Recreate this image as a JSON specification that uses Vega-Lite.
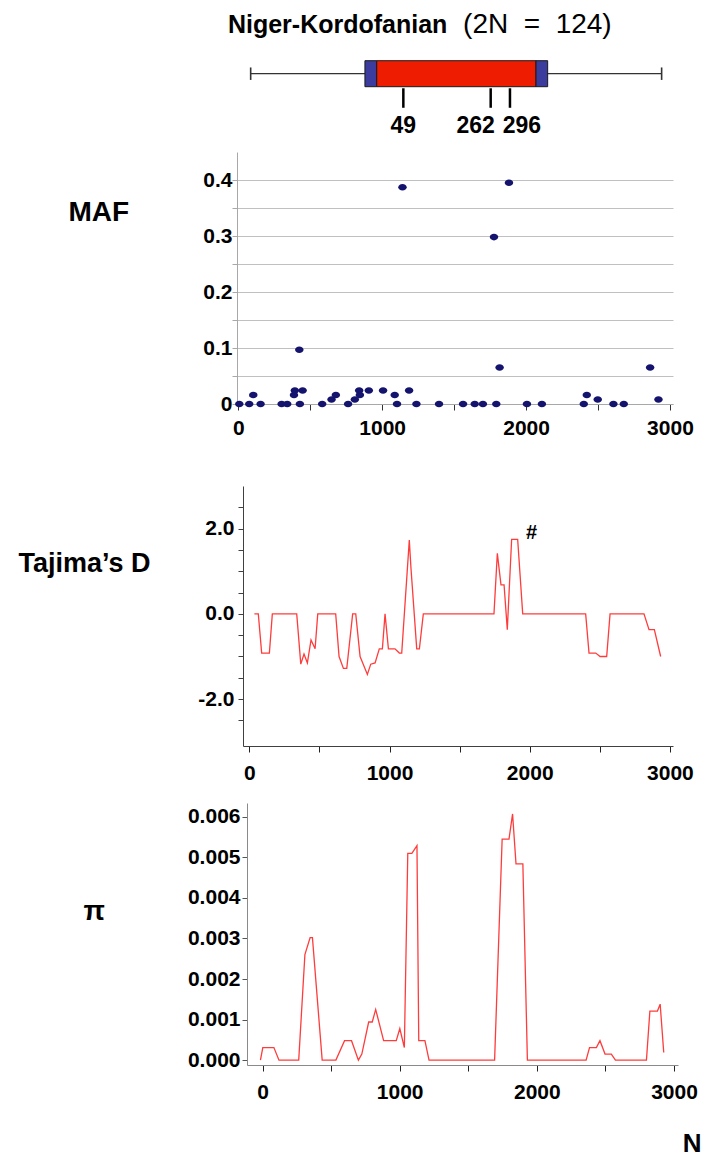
{
  "$schema": "https://vega.github.io/schema/vega-lite/v6.json",
  "padding": {"left": 18, "top": 10, "right": 0, "bottom": 0},
  "autosize": {"type": "pad"},
  "bounds": "flush",
  "spacing": 0,
  "config": {
    "view": {"stroke": null},
    "font": "Liberation Sans",
    "axis": {
      "labelFont": "Liberation Sans", "labelFontWeight": "bold", "labelFontSize": 21, "labelColor": "#000000",
      "titleFont": "Liberation Sans", "titleFontWeight": "bold", "titleColor": "#000000",
      "grid": false, "labelFlush": false, "labelOverlap": false, "tickWidth": 1, "domainWidth": 1
    }
  },
  "datasets": {
    "gene": [{"start": 86, "end": 2942}],
    "geneEnds": [{"pos": 86}, {"pos": 2942}],
    "parts": [
      {"part": "UTR", "start": 880, "end": 962},
      {"part": "CDS", "start": 962, "end": 2069},
      {"part": "UTR", "start": 2069, "end": 2150}
    ],
    "snps": [
      {"codon": "49", "pos": 1147},
      {"codon": "262", "pos": 1754},
      {"codon": "296", "pos": 1888}
    ],
    "maf": [
      {"pos": 7, "maf": 0}, {"pos": 76, "maf": 0}, {"pos": 104, "maf": 0.016}, {"pos": 155, "maf": 0},
      {"pos": 301, "maf": 0}, {"pos": 340, "maf": 0}, {"pos": 387, "maf": 0.016}, {"pos": 393, "maf": 0.024},
      {"pos": 447, "maf": 0.024}, {"pos": 424, "maf": 0.097}, {"pos": 428, "maf": 0}, {"pos": 583, "maf": 0},
      {"pos": 648, "maf": 0.008}, {"pos": 678, "maf": 0.016}, {"pos": 763, "maf": 0}, {"pos": 810, "maf": 0.008},
      {"pos": 840, "maf": 0.024}, {"pos": 845, "maf": 0.016}, {"pos": 907, "maf": 0.024}, {"pos": 1006, "maf": 0.024},
      {"pos": 1087, "maf": 0.016}, {"pos": 1103, "maf": 0}, {"pos": 1141, "maf": 0.387}, {"pos": 1187, "maf": 0.024},
      {"pos": 1238, "maf": 0}, {"pos": 1395, "maf": 0}, {"pos": 1562, "maf": 0}, {"pos": 1643, "maf": 0},
      {"pos": 1700, "maf": 0}, {"pos": 1777, "maf": 0.298}, {"pos": 1793, "maf": 0}, {"pos": 1816, "maf": 0.065},
      {"pos": 1881, "maf": 0.395}, {"pos": 2006, "maf": 0}, {"pos": 2110, "maf": 0}, {"pos": 2401, "maf": 0},
      {"pos": 2422, "maf": 0.016}, {"pos": 2498, "maf": 0.008}, {"pos": 2607, "maf": 0}, {"pos": 2679, "maf": 0},
      {"pos": 2862, "maf": 0.065}, {"pos": 2920, "maf": 0.008}
    ],
    "tajima": [
      {"pos": 36, "d": 0}, {"pos": 64, "d": 0}, {"pos": 88, "d": -0.92}, {"pos": 143, "d": -0.92},
      {"pos": 164, "d": 0}, {"pos": 338, "d": 0}, {"pos": 367, "d": -1.18}, {"pos": 390, "d": -0.94},
      {"pos": 414, "d": -1.15}, {"pos": 440, "d": -0.61}, {"pos": 469, "d": -0.82}, {"pos": 488, "d": 0},
      {"pos": 616, "d": 0}, {"pos": 640, "d": -1.0}, {"pos": 671, "d": -1.28}, {"pos": 695, "d": -1.28},
      {"pos": 737, "d": 0}, {"pos": 759, "d": 0}, {"pos": 790, "d": -1.0}, {"pos": 842, "d": -1.42},
      {"pos": 866, "d": -1.18}, {"pos": 897, "d": -1.15}, {"pos": 927, "d": -0.82}, {"pos": 949, "d": -0.82},
      {"pos": 968, "d": 0}, {"pos": 992, "d": -0.82}, {"pos": 1039, "d": -0.82}, {"pos": 1070, "d": -0.92},
      {"pos": 1087, "d": -0.92}, {"pos": 1141, "d": 1.73}, {"pos": 1153, "d": 1.07}, {"pos": 1194, "d": -0.82},
      {"pos": 1213, "d": -0.82}, {"pos": 1241, "d": 0}, {"pos": 1745, "d": 0}, {"pos": 1769, "d": 1.42},
      {"pos": 1795, "d": 0.68}, {"pos": 1817, "d": 0.68}, {"pos": 1840, "d": -0.37}, {"pos": 1871, "d": 1.75},
      {"pos": 1914, "d": 1.75}, {"pos": 1950, "d": 0}, {"pos": 2399, "d": 0}, {"pos": 2423, "d": -0.92},
      {"pos": 2471, "d": -0.92}, {"pos": 2502, "d": -1.0}, {"pos": 2549, "d": -1.0}, {"pos": 2573, "d": 0},
      {"pos": 2815, "d": 0}, {"pos": 2851, "d": -0.37}, {"pos": 2889, "d": -0.37}, {"pos": 2934, "d": -1.0}
    ],
    "pi": [
      {"pos": -15, "pi": 0}, {"pos": 2, "pi": 0.00031}, {"pos": 83, "pi": 0.00031}, {"pos": 120, "pi": 0},
      {"pos": 264, "pi": 0}, {"pos": 309, "pi": 0.0026}, {"pos": 347, "pi": 0.00302}, {"pos": 364, "pi": 0.00302},
      {"pos": 435, "pi": 0}, {"pos": 535, "pi": 0}, {"pos": 598, "pi": 0.00048}, {"pos": 649, "pi": 0.00048},
      {"pos": 699, "pi": 0}, {"pos": 724, "pi": 0.00015}, {"pos": 774, "pi": 0.00094}, {"pos": 800, "pi": 0.00094},
      {"pos": 825, "pi": 0.00125}, {"pos": 883, "pi": 0.00048}, {"pos": 975, "pi": 0.00048}, {"pos": 1001, "pi": 0.00078},
      {"pos": 1034, "pi": 0.00031}, {"pos": 1059, "pi": 0.0051}, {"pos": 1089, "pi": 0.0051}, {"pos": 1126, "pi": 0.00529},
      {"pos": 1139, "pi": 0.00048}, {"pos": 1184, "pi": 0.00048}, {"pos": 1214, "pi": 0}, {"pos": 1692, "pi": 0},
      {"pos": 1747, "pi": 0.00545}, {"pos": 1797, "pi": 0.00545}, {"pos": 1823, "pi": 0.00607}, {"pos": 1848, "pi": 0.00484},
      {"pos": 1898, "pi": 0.00484}, {"pos": 1931, "pi": 0}, {"pos": 2359, "pi": 0}, {"pos": 2384, "pi": 0.00031},
      {"pos": 2434, "pi": 0.00031}, {"pos": 2460, "pi": 0.00048}, {"pos": 2497, "pi": 0.00015}, {"pos": 2543, "pi": 0.00015},
      {"pos": 2573, "pi": 0}, {"pos": 2799, "pi": 0}, {"pos": 2824, "pi": 0.00121}, {"pos": 2879, "pi": 0.00121},
      {"pos": 2899, "pi": 0.00138}, {"pos": 2925, "pi": 0.00019}
    ]
  },
  "vconcat": [
    {
      "width": 436,
      "height": 141,
      "layer": [
        {
          "data": {"name": "gene"},
          "mark": {"type": "rule", "color": "#333333", "strokeWidth": 1.3},
          "encoding": {
            "x": {"field": "start", "type": "quantitative", "scale": {"domain": [-9, 3021], "nice": false, "zero": false}, "axis": null},
            "x2": {"field": "end"},
            "y": {"datum": 0, "type": "quantitative", "scale": {"domain": [-3.01, 2.41], "nice": false, "zero": false}, "axis": null}
          }
        },
        {
          "data": {"name": "geneEnds"},
          "mark": {"type": "rule", "color": "#333333", "strokeWidth": 1.6},
          "encoding": {
            "x": {"field": "pos", "type": "quantitative"},
            "y": {"datum": 0.24, "type": "quantitative"},
            "y2": {"datum": -0.24}
          }
        },
        {
          "data": {"name": "parts"},
          "mark": {"type": "rect", "stroke": "#1a1a1a", "strokeWidth": 1},
          "encoding": {
            "x": {"field": "start", "type": "quantitative"},
            "x2": {"field": "end"},
            "y": {"datum": 0.5, "type": "quantitative"},
            "y2": {"datum": -0.5},
            "color": {"field": "part", "type": "nominal", "scale": {"domain": ["UTR", "CDS"], "range": ["#3c3c9e", "#ee1c00"]}, "legend": null}
          }
        },
        {
          "data": {"name": "snps"},
          "mark": {"type": "rule", "color": "#000000", "strokeWidth": 2.5},
          "encoding": {
            "x": {"field": "pos", "type": "quantitative"},
            "y": {"datum": -0.56, "type": "quantitative"},
            "y2": {"datum": -1.31}
          }
        },
        {
          "data": {"name": "snps"},
          "transform": [{"filter": "datum.codon == '49'"}],
          "mark": {"type": "text", "fontSize": 23, "fontWeight": "bold", "baseline": "alphabetic", "align": "center", "color": "#000000"},
          "encoding": {
            "x": {"field": "pos", "type": "quantitative"},
            "y": {"datum": -2.27, "type": "quantitative"},
            "text": {"field": "codon"}
          }
        },
        {
          "data": {"name": "snps"},
          "transform": [{"filter": "datum.codon == '262'"}],
          "mark": {"type": "text", "fontSize": 23, "fontWeight": "bold", "baseline": "alphabetic", "align": "center", "dx": -15, "color": "#000000"},
          "encoding": {
            "x": {"field": "pos", "type": "quantitative"},
            "y": {"datum": -2.27, "type": "quantitative"},
            "text": {"field": "codon"}
          }
        },
        {
          "data": {"name": "snps"},
          "transform": [{"filter": "datum.codon == '296'"}],
          "mark": {"type": "text", "fontSize": 23, "fontWeight": "bold", "baseline": "alphabetic", "align": "center", "dx": 12, "color": "#000000"},
          "encoding": {
            "x": {"field": "pos", "type": "quantitative"},
            "y": {"datum": -2.27, "type": "quantitative"},
            "text": {"field": "codon"}
          }
        },
        {
          "data": {"values": [{"t": "Niger-Kordofanian"}]},
          "mark": {"type": "text", "fontSize": 25, "fontWeight": "bold", "baseline": "alphabetic", "align": "left", "color": "#000000"},
          "encoding": {
            "x": {"datum": -72, "type": "quantitative"},
            "y": {"datum": 1.565, "type": "quantitative"},
            "text": {"field": "t"}
          }
        },
        {
          "data": {"values": [{"t": "(2N\u00a0\u00a0=\u00a0\u00a0124)"}]},
          "mark": {"type": "text", "fontSize": 28, "fontWeight": "normal", "baseline": "alphabetic", "align": "left", "color": "#000000"},
          "encoding": {
            "x": {"datum": 1562, "type": "quantitative"},
            "y": {"datum": 1.565, "type": "quantitative"},
            "text": {"field": "t"}
          }
        }
      ]
    },
    {
      "width": 436,
      "height": 252,
      "data": {"name": "maf"},
      "mark": {"type": "point", "filled": true, "shape": "M -1 0 A 1 0.77 0 1 0 1 0 A 1 0.77 0 1 0 -1 0 Z", "size": 72, "color": "#14146e", "opacity": 1},
      "encoding": {
        "x": {
          "field": "pos", "type": "quantitative",
          "scale": {"domain": [-9, 3021], "nice": false, "zero": false},
          "axis": {
            "values": [0, 500, 1000, 1500, 2000, 2500, 3000], "format": "d", "tickCount": 30,
            "labelExpr": "datum.value % 1000 == 0 ? datum.label : ''",
            "domainColor": "#a8a8a8", "tickColor": "#333333", "tickSize": 6, "labelPadding": 7, "title": null
          }
        },
        "y": {
          "field": "maf", "type": "quantitative",
          "scale": {"domain": [0, 0.45], "nice": false, "zero": false},
          "axis": {
            "values": [0, 0.05, 0.1, 0.15, 0.2, 0.25, 0.3, 0.35, 0.4], "tickCount": 30,
            "labelExpr": "round(datum.value * 20) % 2 == 0 ? (datum.value == 0 ? '0' : format(datum.value, '.1f')) : ''",
            "grid": true, "gridColor": "#c0c0c0", "gridWidth": 1,
            "domainColor": "#a8a8a8", "tickColor": "#a8a8a8", "tickSize": 5, "labelPadding": 0,
            "title": "MAF", "titleAngle": 0, "titleAlign": "left", "titleBaseline": "alphabetic",
            "titleX": -169, "titleY": 68, "titleFontSize": 28
          }
        }
      }
    },
    {
      "width": 436,
      "height": 82,
      "data": {"values": []},
      "mark": "point"
    },
    {
      "width": 436,
      "height": 260,
      "layer": [
        {
          "data": {"name": "tajima"},
          "mark": {"type": "line", "color": "#ff3c3c", "strokeWidth": 1.3},
          "encoding": {
            "x": {
              "field": "pos", "type": "quantitative",
              "scale": {"domain": [-88, 3022], "nice": false, "zero": false},
              "axis": {
                "values": [0, 500, 1000, 1500, 2000, 2500, 3000], "format": "d", "tickCount": 30,
                "labelExpr": "datum.value % 1000 == 0 ? datum.label : ''",
                "domainColor": "#404040", "domainDash": [0, 6, 2000, 0],
                "tickColor": "#222222", "tickSize": 6, "labelPadding": 10, "title": null
              }
            },
            "y": {
              "field": "d", "type": "quantitative",
              "scale": {"domain": [-3.1, 3.0], "nice": false, "zero": false},
              "axis": {
                "values": [-2.5, -2, -1.5, -1, -0.5, 0, 0.5, 1, 1.5, 2, 2.5], "tickCount": 30,
                "labelExpr": "datum.value == 0 ? '0.0' : (datum.value == 2 ? '2.0' : (datum.value == -2 ? '-2.0' : ''))",
                "offset": -6,
                "domainColor": "#404040", "tickColor": "#404040", "tickSize": 5, "labelPadding": 4,
                "title": "Tajima’s D", "titleAngle": 0, "titleAlign": "left", "titleBaseline": "alphabetic",
                "titleX": -225, "titleY": 85, "titleFontSize": 27
              }
            }
          }
        },
        {
          "data": {"values": [{"label": "#", "pos": 2014, "d": 1.89}]},
          "mark": {"type": "text", "fontSize": 20, "fontWeight": "bold", "color": "#000000", "baseline": "middle", "align": "center"},
          "encoding": {
            "x": {"field": "pos", "type": "quantitative"},
            "y": {"field": "d", "type": "quantitative"},
            "text": {"field": "label"}
          }
        }
      ]
    },
    {
      "width": 436,
      "height": 57,
      "data": {"values": []},
      "mark": "point"
    },
    {
      "width": 441,
      "height": 262,
      "data": {"name": "pi"},
      "mark": {"type": "line", "color": "#ff3c3c", "strokeWidth": 1.3},
      "encoding": {
        "x": {
          "field": "pos", "type": "quantitative",
          "scale": {"domain": [-186, 3029], "nice": false, "zero": false},
          "axis": {
            "values": [0, 500, 1000, 1500, 2000, 2500, 3000], "format": "d", "tickCount": 30,
            "labelExpr": "datum.value % 1000 == 0 ? datum.label : ''",
            "domainColor": "#8a8a8a", "domainDash": [0, 10, 2000, 0],
            "tickColor": "#222222", "tickSize": 6, "labelPadding": 10,
            "title": "N", "titleAngle": 0, "titleAlign": "right", "titleBaseline": "alphabetic",
            "titleX": 464, "titleY": 86, "titleFontSize": 26
          }
        },
        "y": {
          "field": "pi", "type": "quantitative",
          "scale": {"domain": [-0.00012, 0.00634], "nice": false, "zero": false},
          "axis": {
            "values": [0, 0.001, 0.002, 0.003, 0.004, 0.005, 0.006], "format": ".3f", "tickCount": 30,
            "offset": -10,
            "domainColor": "#8a8a8a", "tickColor": "#555555", "tickSize": 5, "labelPadding": 2,
            "title": "π", "titleAngle": 0, "titleAlign": "left", "titleBaseline": "alphabetic",
            "titleX": -164, "titleY": 116, "titleFontSize": 28
          }
        }
      }
    }
  ]
}
